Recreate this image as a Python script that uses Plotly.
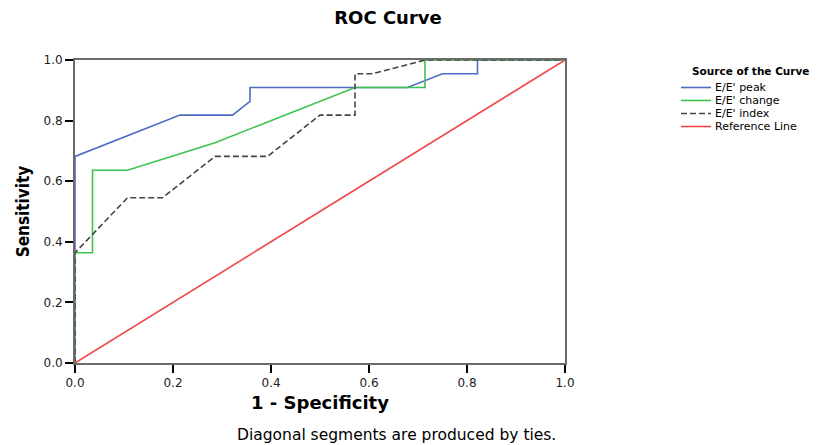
import plotly.graph_objects as go

# ROC curve data (1 - Specificity, Sensitivity)
peak_x = [0, 0, 6/28, 9/28, 10/28, 10/28, 19/28, 21/28, 23/28, 23/28, 1]
peak_y = [0, 15/22, 18/22, 18/22, 19/22, 20/22, 20/22, 21/22, 21/22, 1, 1]

change_x = [0, 0, 1/28, 1/28, 3/28, 8/28, 16/28, 20/28, 20/28, 1]
change_y = [0, 8/22, 8/22, 14/22, 14/22, 16/22, 20/22, 20/22, 1, 1]

index_x = [0, 0, 3/28, 5/28, 8/28, 11/28, 14/28, 16/28, 16/28, 17/28, 20/28, 1]
index_y = [0, 8/22, 12/22, 12/22, 15/22, 15/22, 18/22, 18/22, 21/22, 21/22, 1, 1]

ref_x = [0, 1]
ref_y = [0, 1]

tick_vals = [0.0, 0.2, 0.4, 0.6, 0.8, 1.0]
tick_text = ["0.0", "0.2", "0.4", "0.6", "0.8", "1.0"]

series_names = ["E/E' peak", "E/E' change", "E/E' index", "Reference Line"]
colors = ["#4F6BC4", "#3DC44E", "#444444", "#F04848"]
dashes = ["solid", "solid", "6px,3px", "solid"]

fig = go.Figure()
data = [(peak_x, peak_y), (change_x, change_y), (index_x, index_y), (ref_x, ref_y)]
for (xs, ys), name, c, d in zip(data, series_names, colors, dashes):
    fig.add_trace(go.Scatter(x=xs, y=ys, mode="lines", name=name,
                             line=dict(color=c, width=1.6, dash=d),
                             showlegend=False))

L, R, T, B = 75, 266, 60, 82
W, H = 831, 445
pw, ph = W - L - R, H - T - B

def px_x(p):
    return (p - L) / pw

def px_y(p):
    return (H - B - p) / ph

FONT = "DejaVu Sans, Liberation Sans, Arial, sans-serif"

shapes = []
annotations = []
# manual legend (SPSS style)
annotations.append(dict(text="<b>Source of the Curve</b>", xref="paper", yref="paper",
                        x=px_x(690), y=px_y(71), xanchor="left", yanchor="middle",
                        showarrow=False, font=dict(family=FONT, size=10.5, color="#000")))
row_y = [87.5, 100.5, 113.5, 126.5]
for name, c, d, ry in zip(series_names, colors, dashes, row_y):
    shapes.append(dict(type="line", xref="paper", yref="paper",
                       x0=px_x(681), x1=px_x(711), y0=px_y(ry), y1=px_y(ry),
                       line=dict(color=c, width=1.6, dash=d)))
    annotations.append(dict(text=name, xref="paper", yref="paper",
                            x=px_x(714), y=px_y(ry), xanchor="left", yanchor="middle",
                            borderpad=0,
                            showarrow=False, font=dict(family=FONT, size=11, color="#000")))

annotations.append(dict(text="Diagonal segments are produced by ties.", xref="paper", yref="paper",
                        x=px_x(396), y=px_y(435), xanchor="center", yanchor="middle",
                        borderpad=0,
                        showarrow=False, font=dict(family=FONT, size=15.5, color="#000")))

fig.update_layout(
    width=W, height=H,
    margin=dict(l=L, r=R, t=T, b=B, autoexpand=False),
    paper_bgcolor="white", plot_bgcolor="white",
    title=dict(text="<b>ROC Curve</b>", x=388 / W, xanchor="center",
               y=1 - 18 / H, yanchor="middle",
               font=dict(family=FONT, size=18, color="#000")),
    shapes=shapes, annotations=annotations,
    showlegend=False,
)

axis_common = dict(
    range=[0, 1], tickvals=tick_vals, ticktext=tick_text,
    showgrid=False, zeroline=False,
    showline=True, linecolor="#6b6b6b", linewidth=2, mirror=True,
    ticks="outside", ticklen=8, tickwidth=1.5, tickcolor="#000",
    tickfont=dict(family=FONT, size=12, color="#222"),
    fixedrange=True,
)
fig.update_xaxes(**axis_common,
                 title=dict(text="<b>1 - Specificity</b>", standoff=7,
                            font=dict(family=FONT, size=18, color="#000")))
fig.update_yaxes(**axis_common,
                 title=dict(text="<b>Sensitivity</b>", standoff=10,
                            font=dict(family="Liberation Sans Narrow, DejaVu Sans Condensed, Liberation Sans, sans-serif",
                                      size=17, color="#000")))

fig.write_html("out.html", config={"displayModeBar": False},
               post_script="document.body.style.margin='0';document.body.style.padding='0';")
